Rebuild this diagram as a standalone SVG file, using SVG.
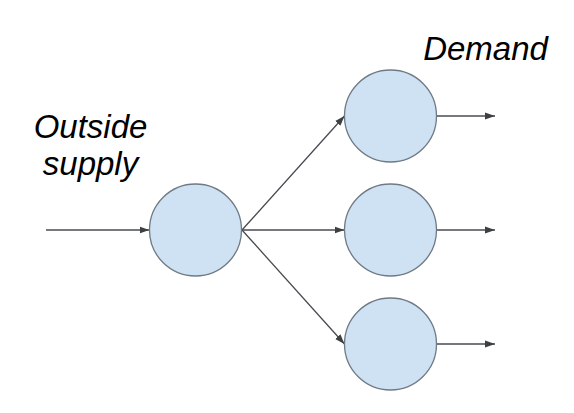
<svg xmlns="http://www.w3.org/2000/svg" width="574" height="413" viewBox="0 0 574 413">
<defs>
<marker id="ah" viewBox="0 0 10 10" refX="10" refY="5" markerWidth="10" markerHeight="10" markerUnits="userSpaceOnUse" orient="auto">
<path d="M0,1.5 L10,5 L0,8.5 Z" fill="#3c4043"/>
</marker>
</defs>
<style>
.n{fill:#cfe2f3;stroke:#6f7a85;stroke-width:1.3}
.c{stroke:#474b50;stroke-width:1.3;fill:none;marker-end:url(#ah)}
.t{font-family:"Liberation Sans",Arial,sans-serif;font-style:italic;font-size:33px;fill:#000}
</style>
<rect width="574" height="413" fill="#fff"/>
<g id="connectors">
<line class="c" x1="46" y1="230" x2="149.5" y2="230"/>
<line class="c" x1="242" y1="230" x2="344.5" y2="116"/>
<line class="c" x1="242" y1="230" x2="344.5" y2="230"/>
<line class="c" x1="242" y1="230" x2="344.5" y2="344"/>
<line class="c" x1="437" y1="116" x2="495" y2="116"/>
<line class="c" x1="437" y1="230" x2="495" y2="230"/>
<line class="c" x1="437" y1="344" x2="495" y2="344"/>
</g>
<g id="source"><circle class="n" cx="195.5" cy="230" r="46"/></g>
<g id="demand1"><circle class="n" cx="390.5" cy="116" r="46"/></g>
<g id="demand2"><circle class="n" cx="390.5" cy="230" r="46"/></g>
<g id="demand3"><circle class="n" cx="390.5" cy="344" r="46"/></g>
<g id="label-supply">
<text class="t" x="90.5" y="138" text-anchor="middle">Outside</text>
<text class="t" x="90.5" y="175" text-anchor="middle">supply</text>
</g>
<g id="label-demand"><text class="t" x="485.5" y="60" text-anchor="middle">Demand</text></g>
</svg>
